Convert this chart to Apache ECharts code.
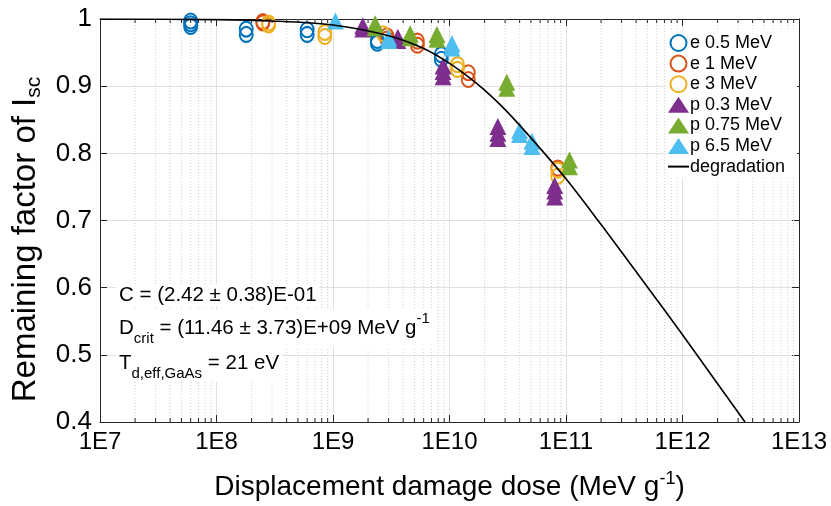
<!DOCTYPE html>
<html>
<head>
<meta charset="utf-8">
<script src="https://cdn.jsdelivr.net/npm/echarts@6/dist/echarts.min.js"></script>
<style>html,body{margin:0;padding:0;background:#fff;}#c{width:831px;height:506px;}</style>
</head>
<body>
<div id="c"></div>
<script>
// ---- data (dose in MeV/g, remaining factor of Isc) ----
const e05 = [[6e7,0.997],[6e7,0.993],[6e7,0.989],[1.8e8,0.985],[1.8e8,0.977],[6e8,0.984],[6e8,0.977],[2.4e9,0.968],[2.4e9,0.964],[8.5e9,0.947],[8.5e9,0.940]];
const e1  = [[2.5e8,0.996],[2.5e8,0.994],[2.9e9,0.975],[2.9e9,0.970],[5.3e9,0.967],[5.3e9,0.961],[1.45e10,0.920],[1.45e10,0.910],[8.5e10,0.778]];
const e3  = [[2.8e8,0.994],[2.8e8,0.991],[8.5e8,0.980],[8.5e8,0.974],[2.7e9,0.978],[1.17e10,0.932],[1.17e10,0.925],[8.5e10,0.775],[8.5e10,0.766]];
const p03 = [[1.8e9,0.990],[1.8e9,0.985],[3.6e9,0.973],[3.6e9,0.968],[8.8e9,0.930],[8.8e9,0.922],[8.8e9,0.914],[2.6e10,0.840],[2.6e10,0.830],[2.6e10,0.822],[8e10,0.752],[8e10,0.744],[8e10,0.735]];
const p075= [[2.3e9,0.993],[2.3e9,0.987],[4.6e9,0.978],[4.6e9,0.972],[7.8e9,0.977],[7.8e9,0.970],[3.1e10,0.906],[3.1e10,0.897],[1.07e11,0.790],[1.07e11,0.780]];
const p65 = [[1.05e9,0.997],[3e9,0.972],[3e9,0.968],[1.05e10,0.963],[1.05e10,0.957],[4e10,0.834],[4e10,0.828],[5.1e10,0.818],[5.1e10,0.810]];
const curveDose = [1e7,1e8,3e8,1e9,3e9,6e9,1e10,1.5e10,2e10,3e10,5e10,1e11,2e11,3e11,5e11,1e12,2e12,3.44e12];
const curveRem  = [1.000,0.999,0.997,0.991,0.975,0.956,0.934,0.912,0.894,0.865,0.823,0.762,0.694,0.653,0.601,0.530,0.457,0.400];
const seriesNames = ['e 0.5 MeV','e 1 MeV','e 3 MeV','p 0.3 MeV','p 0.75 MeV','p 6.5 MeV','degradation'];
const xDecades = [7,8,9,10,11,12,13];
const annotC = 'C = (2.42 ± 0.38)E-01';
const annotD = 'D{sub|crit} = (11.46 ± 3.73)E+09 MeV g{sup|-1}';
const annotT = 'T{sub|d,eff,GaAs} = 21 eV';

// minor tick positions for log axis (2..9 per decade)
const minorTicks = [];
for (let d = xDecades[0]; d < xDecades[xDecades.length-1]; d++) for (let k = 2; k < 10; k++) minorTicks.push(k * Math.pow(10, d));

const FONT = '"Liberation Sans", Arial, Helvetica, sans-serif';
const AX = '#262626';
const colors = ['#0072BD','#D95319','#EDB120','#7E2F8E','#77AC30','#4DBEEE'];

const chart = echarts.init(document.getElementById('c'), null, {renderer:'canvas'});

function circleSeries(name, data, color){
  return {name, type:'scatter', data, symbol:'circle', symbolSize:[13,15],
    itemStyle:{color:'rgba(255,255,255,0)', borderColor:color, borderWidth:2, opacity:1}, z:3};
}
function triSeries(name, data, color){
  return {name, type:'scatter', data, symbol:'triangle', symbolSize:[17,17],
    itemStyle:{color:color, borderWidth:0, opacity:1}, z:3};
}
const subRich = {fontSize:15, verticalAlign:'bottom', padding:[20,0,0,0], fontFamily:FONT, color:'#000'};
const supRich = {fontSize:15, verticalAlign:'top', padding:[0,0,13,0], fontFamily:FONT, color:'#000'};

const option = {
  animation:false,
  grid:{left:100, right:32, top:19, bottom:84, containLabel:false},
  xAxis:[{
    type:'log', logBase:10, min:1e7, max:1e13, position:'bottom',
    name:'Displacement damage dose (MeV g{sup|-1})', nameLocation:'middle', nameGap:48,
    nameTextStyle:{fontFamily:FONT, fontSize:28, color:'#000',
      rich:{sup:{fontSize:18, verticalAlign:'top', padding:[0,0,16,0], fontFamily:FONT, color:'#000'}}},
    axisLine:{lineStyle:{color:AX, width:1}},
    axisTick:{inside:true, length:7, lineStyle:{color:AX}},
    axisLabel:{fontFamily:FONT, fontSize:24, color:'#000', margin:8,
      formatter:v=>'1E'+Math.round(Math.log10(v))},
    splitLine:{show:true, lineStyle:{color:'#e0e0e0', width:1}}
  },{
    type:'log', logBase:10, min:1e7, max:1e13, position:'top',
    axisLine:{lineStyle:{color:AX, width:1}},
    axisTick:{inside:true, length:7, lineStyle:{color:AX}},
    axisLabel:{show:false}, splitLine:{show:false}
  }],
  yAxis:[{
    type:'value', min:0.4, max:1, interval:0.1, position:'left',
    name:'Remaining factor of I{sub|sc}', nameLocation:'middle', nameGap:53,
    nameTextStyle:{fontFamily:FONT, fontSize:33, color:'#000', padding:[0,38,0,0],
      rich:{sub:{fontSize:21, verticalAlign:'bottom', padding:[17,0,0,0], fontFamily:FONT, color:'#000'}}},
    axisLine:{show:true, lineStyle:{color:AX, width:1}},
    axisTick:{show:true, inside:true, length:7, lineStyle:{color:AX}},
    axisLabel:{fontFamily:FONT, fontSize:26, color:'#000', margin:8,
      formatter:v=>String(+v.toFixed(1))},
    splitLine:{show:true, lineStyle:{color:'#e0e0e0', width:1}}
  },{
    type:'value', min:0.4, max:1, interval:0.1, position:'right',
    axisLine:{show:true, lineStyle:{color:AX, width:1}},
    axisTick:{show:true, inside:true, length:7, lineStyle:{color:AX}},
    axisLabel:{show:false}, splitLine:{show:false}
  }],
  legend:{
    data: seriesNames.slice(0,6).concat([{name:seriesNames[6], itemStyle:{opacity:0}}]),
    orient:'vertical', left:665, top:31, itemGap:2.6,
    itemWidth:21, itemHeight:16, backgroundColor:'#fff', padding:[3,12,3,2], z:6,
    textStyle:{fontFamily:FONT, fontSize:18, lineHeight:18, color:'#000', padding:[0,0,0,-4]}
  },
  graphic:[
    {type:'text', left:116, top:284, z:10, style:{text:annotC, fontFamily:FONT, fontSize:20.5, fill:'#000', backgroundColor:'#fff', padding:[1,3]}},
    {type:'text', left:116, top:310, z:10, style:{text:annotD, fontFamily:FONT, fontSize:20.5, fill:'#000', backgroundColor:'#fff', padding:[1,3],
      rich:{sub:subRich, sup:supRich}}},
    {type:'text', left:116, top:345, z:10, style:{text:annotT, fontFamily:FONT, fontSize:20.5, fill:'#000', backgroundColor:'#fff', padding:[1,3],
      rich:{sub:subRich}}}
  ],
  series:[
    {type:'custom', name:'minor', silent:true, z:1, data:minorTicks.map(v=>[v]),
      renderItem:(params, api)=>{
        const v = api.value(0);
        const top = api.coord([v,1]);
        const bot = api.coord([v,0.4]);
        return {type:'group', children:[
          {type:'line', shape:{x1:top[0],y1:top[1],x2:bot[0],y2:bot[1]},
            style:{stroke:'#cfcfcf', lineWidth:1, lineDash:[1,2]}},
          {type:'line', shape:{x1:bot[0],y1:bot[1],x2:bot[0],y2:bot[1]-4}, style:{stroke:AX, lineWidth:1}},
          {type:'line', shape:{x1:top[0],y1:top[1],x2:top[0],y2:top[1]+4}, style:{stroke:AX, lineWidth:1}}
        ]};
      }},
    circleSeries(seriesNames[0], e05, colors[0]),
    circleSeries(seriesNames[1], e1, colors[1]),
    circleSeries(seriesNames[2], e3, colors[2]),
    triSeries(seriesNames[3], p03, colors[3]),
    triSeries(seriesNames[4], p075, colors[4]),
    triSeries(seriesNames[5], p65, colors[5]),
    {name:seriesNames[6], type:'line', data:curveDose.map((d,i)=>[d,curveRem[i]]),
      smooth:0.3, symbol:'none', showSymbol:false, lineStyle:{color:'#000', width:1.6}, itemStyle:{color:'#000'}, z:4}
  ]
};
chart.setOption(option);
</script>
</body>
</html>
